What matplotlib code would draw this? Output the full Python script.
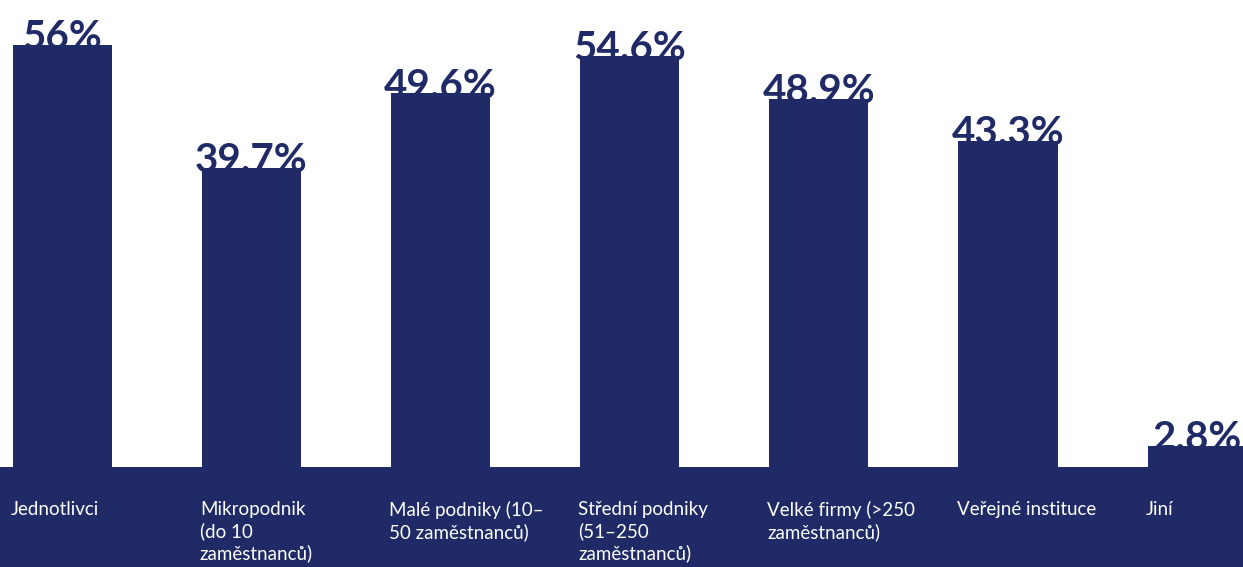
import matplotlib
matplotlib.use("Agg")
import matplotlib.pyplot as plt
from matplotlib.patches import Rectangle
from matplotlib.transforms import blended_transform_factory

# Data
categories = [
    "Jednotlivci",
    "Mikropodnik\n(do 10\nzaměstnanců)",
    "Malé podniky (10–\n50 zaměstnanců)",
    "Střední podniky\n(51–250\nzaměstnanců)",
    "Velké firmy (>250\nzaměstnanců)",
    "Veřejné instituce",
    "Jiní",
]
values = [56, 39.7, 49.6, 54.6, 48.9, 43.3, 2.8]
value_labels = ["56%", "39.7%", "49.6%", "54.6%", "48.9%", "43.3%", "2.8%"]

NAVY = "#1f2a66"
FONT = ["Lato", "DejaVu Sans"]

W, H = 1243, 567
band_h = 100  # height of the category band at the bottom, in pixels

fig = plt.figure(figsize=(W / 100, H / 100), dpi=100)
fig.patch.set_facecolor("white")

# Navy band carrying the category names
fig.patches.append(Rectangle((0, 0), 1, band_h / H, transform=fig.transFigure,
                             facecolor=NAVY, edgecolor="none", zorder=0))

ax = fig.add_axes([0, band_h / H, 1, 1 - band_h / H])
ax.set_facecolor("none")
for s in ax.spines.values():
    s.set_visible(False)
ax.set_xticks([])
ax.set_yticks([])

step = 189.2          # pixels between bar centres
first_center = 62.0   # pixel of the first bar centre
bar_w = 99 / step
ax.set_xlim(-first_center / step, (W - first_center) / step)
ax.set_ylim(0, 62.0)

x = list(range(len(values)))
bars = ax.bar(x, values, width=bar_w, color=NAVY, zorder=3)

# Value labels sit just on the bar top; the bar covers their lower edge
for xi, v, lab in zip(x, values, value_labels):
    ax.annotate(lab, (xi, v), xytext=(0, -3), textcoords="offset points",
                ha="center", va="baseline", fontsize=29, fontweight="bold",
                color=NAVY, family=FONT, zorder=2, annotation_clip=False)

# Category names, left-aligned with each bar
trans = blended_transform_factory(ax.transData, fig.transFigure)
for xi, cat in zip(x, categories):
    fig.text(xi - bar_w / 2 - 0.01, 1 - 501 / H, cat, transform=trans,
             ha="left", va="top", fontsize=13.5, color="white",
             family=FONT, linespacing=1.27)

fig.savefig("out.png", dpi=100, facecolor="white")
